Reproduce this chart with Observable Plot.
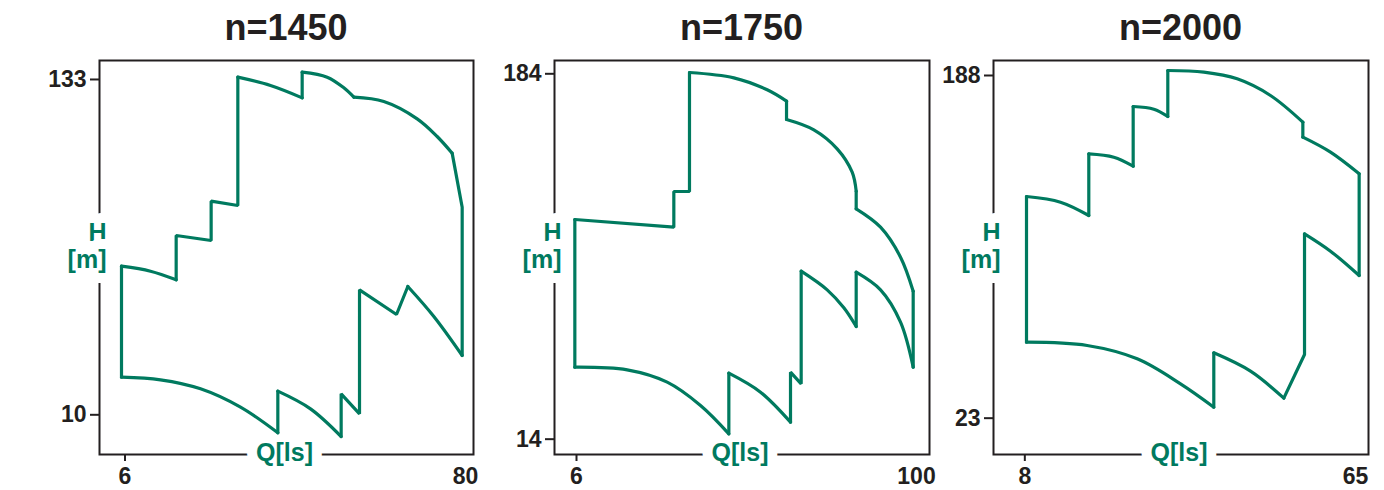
<!DOCTYPE html>
<html><head><meta charset="utf-8">
<script src="https://cdn.jsdelivr.net/npm/d3@7"></script>
<script src="https://cdn.jsdelivr.net/npm/@observablehq/plot@0.6"></script>
<style>
body{margin:0;background:#fff;font-family:"Liberation Sans",Arial,sans-serif;}
#root{position:relative;width:1384px;height:490px;overflow:hidden;background:#fff;}
.title{position:absolute;top:10px;height:36px;line-height:36px;font-size:36px;font-weight:bold;color:#231f20;text-align:center;}
.panel{position:absolute;top:50px;}
.panel svg{overflow:visible;background:transparent;}
.panel svg g[aria-label="y-axis tick label"] text,
.panel svg g[aria-label="x-axis tick label"] text{font-size:23px;font-weight:bold;}
</style></head>
<body><div id="root"></div>
<script>
// ---- data: Q [l/s] and H [m] along the outline, split into pieces ----
const titles = ["n=1450", "n=1750", "n=2000"];

const q1450 = [5.24, 11.54, 17.12,  17.12, 17.12, 24.72, 24.72, 30.52, 30.52,  30.52, 37.62, 44.50,  44.50, 44.50,  44.50, 49.93, 53.55, 55.73,  55.73, 62.24, 69.49, 73.83, 77.09,  77.09, 79.27, 79.27,  79.27, 73.11, 67.46,  67.46, 65.0, 56.96, 56.96, 52.97, 52.97,  52.97, 46.31, 39.21,  39.21, 39.21,  39.21, 31.1, 22.41, 13.71, 5.24,  5.24, 5.24];
const h1450 = [64.52, 62.68, 59.51,  59.51, 75.77, 73.93, 88.36, 86.77, 133.84,  133.84, 130.79, 126.26,  126.26, 135.68,  135.68, 133.84, 129.93, 126.5,  126.5, 124.92, 118.56, 112.08, 105.97,  105.97, 86.16, 31.75,  31.75, 46.06, 57.06,  57.06, 46.79, 55.84, 10.36, 17.69, 2.04,  2.04, 12.19, 18.67,  18.67, 3.39,  3.39, 12.8, 19.53, 22.83, 23.80,  23.80, 64.52];
const part1450 = [0,0,0, 1,1,1,1,1,1, 2,2,2, 3,3, 4,4,4,4, 5,5,5,5,5, 6,6,6, 7,7,7, 8,8,8,8,8,8, 9,9,9, 10,10, 11,11,11,11,11, 12,12];
const curved1450 = [0, 2, 4, 5, 7, 9, 11];

const q1750 = [5.54, 32.91, 32.91, 37.24, 37.24,  37.24, 49.50, 58.72, 64.07,  64.07, 64.07,  64.07, 71.62, 78.07, 82.22, 83.33,  83.33, 83.33,  83.33, 90.06, 95.59, 99.09,  99.09, 99.09,  99.09, 95.59, 90.06, 83.33,  83.33, 83.33,  83.33, 79.92, 75.31, 68.12,  68.12, 68.12, 65.17, 65.17,  65.17, 56.88, 48.12,  48.12, 48.12,  48.12, 40.29, 31.07, 20.01, 5.54,  5.54, 5.54];
const h1750 = [116.21, 112.64, 129.24, 129.24, 184.61,  184.61, 182.13, 176.55, 171.27,  171.27, 162.74,  162.74, 157.94, 149.1, 138.24, 129.40,  129.40, 121.18,  121.18, 112.64, 98.68, 82.86,  82.86, 47.5,  47.5, 68.44, 83.49, 91.71,  91.71, 66.42,  66.42, 75.11, 83.49, 92.17,  92.17, 39.75, 45.18, 21.91,  21.91, 35.87, 44.71,  44.71, 16.48,  16.48, 29.67, 40.52, 46.26, 47.5,  47.5, 116.21];
const part1750 = [0,0,0,0,0, 1,1,1,1, 2,2, 3,3,3,3,3, 4,4, 5,5,5,5, 6,6, 7,7,7,7, 8,8, 9,9,9,9, 10,10,10,10, 11,11,11, 12,12, 13,13,13,13,13, 14,14];
const curved1750 = [1, 3, 5, 7, 9, 11, 13];

const q2000 = [8.29, 8.29,  8.29, 14.15, 19.03,  19.03, 19.03,  19.03, 23.34, 26.68,  26.68, 26.68,  26.68, 30.24, 32.65,  32.65, 32.65,  32.65, 38.86, 44.61, 50.35, 55.93,  55.93, 55.93,  55.93, 60.70, 65.64,  65.64, 65.64,  65.64, 60.70, 56.22,  56.22, 56.22, 52.65,  52.65, 46.91, 40.58,  40.58, 40.58,  40.58, 34.84, 27.37, 18.75, 8.29];
const h2000 = [59.59, 129.73,  129.73, 127.0, 120.58,  120.58, 150.28,  150.28, 148.67, 144.34,  144.34, 173.07,  173.07, 171.78, 168.25,  168.25, 190.40,  190.40, 189.6, 186.39, 178.37, 165.52,  165.52, 158.30,  158.30, 151.08, 140.65,  140.65, 91.69,  91.69, 103.41, 111.76,  111.76, 53.66, 32.63,  32.63, 45.63, 54.46,  54.46, 28.30,  28.30, 39.53, 51.57, 57.99, 59.59];
const part2000 = [0,0, 1,1,1, 2,2, 3,3,3, 4,4, 5,5,5, 6,6, 7,7,7,7,7, 8,8, 9,9,9, 10,10, 11,11,11, 12,12,12, 13,13,13, 14,14, 15,15,15,15,15];
const curved2000 = [1, 3, 5, 7, 9, 11, 13, 15];

const xTicks = [[6, 80], [6, 100], [8, 65]];
const yTicks = [[10, 133], [14, 184], [23, 188]];

// ---- layout (pixels / scale windows) ----
const GREEN = "#007a5f";
const INK = "#231f20";
const panels = [
  {q: q1450, h: h1450, part: part1450, curved: curved1450, left: 0, width: 480, mL: 99, mR: 7,
   xDom: [0.459, 81.73], yDom: [-4.56, 139.96]},
  {q: q1750, h: h1750, part: part1750, curved: curved1750, left: 480, width: 450, mL: 74, mR: 1,
   xDom: [-0.083, 103.6], yDom: [6.87, 190.19]},
  {q: q2000, h: h2000, part: part2000, curved: curved2000, left: 930, width: 454, mL: 63, mR: 16,
   xDom: [2.60, 67.25], yDom: [5.51, 195.22]}
];

const root = document.getElementById("root");
panels.forEach((p, i) => {
  const rows = p.q.map((q, j) => ({q, h: p.h[j], part: p.part[j]}));
  const curvedRows = rows.filter(d => p.curved.includes(d.part));
  const straightRows = rows.filter(d => !p.curved.includes(d.part));
  const labelStyle = {fill: GREEN, stroke: "white", strokeWidth: 20, paintOrder: "stroke",
    strokeLinejoin: "round", fontSize: 25, fontWeight: "bold", fontFamily: "Liberation Sans"};
  const chart = Plot.plot({
    width: p.width, height: 440,
    marginLeft: p.mL, marginRight: p.mR, marginTop: 10, marginBottom: 36,
    x: {domain: p.xDom}, y: {domain: p.yDom},
    style: {fontFamily: "Liberation Sans", fontWeight: "bold", fontSize: "23px", color: INK, background: "transparent", overflow: "visible"},
    marks: [
      Plot.frame({stroke: INK, strokeWidth: 2}),
      Plot.axisY({ticks: yTicks[i], tickSize: 9, tickPadding: 4, label: null, fontSize: 23, fontWeight: "bold", strokeWidth: 2, tickFormat: d => String(d)}),
      Plot.axisX({ticks: [xTicks[i][0]], tickSize: 7, tickPadding: 6, label: null, fontSize: 23, fontWeight: "bold", strokeWidth: 2, tickFormat: d => String(d)}),
      Plot.axisX({ticks: [xTicks[i][1]], tickSize: 0, tickPadding: 13, label: null, fontSize: 23, fontWeight: "bold", tickFormat: d => String(d)}),
      Plot.text(["H"], {frameAnchor: "left", dx: 7, dy: -25, textAnchor: "end", lineAnchor: "middle", ...labelStyle}),
      Plot.text(["[m]"], {frameAnchor: "left", dx: 7, dy: 2, textAnchor: "end", lineAnchor: "middle", ...labelStyle}),
      Plot.text(["Q[ls]"], {frameAnchor: "bottom", dx: -2, dy: -2, textAnchor: "middle", lineAnchor: "middle", ...labelStyle}),
      Plot.line(straightRows, {x: "q", y: "h", z: "part", stroke: GREEN, strokeWidth: 3.2, strokeLinejoin: "miter", strokeLinecap: "round"}),
      Plot.line(curvedRows, {x: "q", y: "h", z: "part", curve: "catmull-rom", stroke: GREEN, strokeWidth: 3.2, strokeLinejoin: "round", strokeLinecap: "round"})
    ]
  });
  const t = document.createElement("div");
  t.className = "title";
  t.textContent = titles[i];
  t.style.left = (p.left + p.mL) + "px";
  t.style.width = (p.width - p.mL - p.mR) + "px";
  root.appendChild(t);
  const d = document.createElement("div");
  d.className = "panel";
  d.style.left = p.left + "px";
  d.appendChild(chart);
  root.appendChild(d);
});
</script>
</body></html>
